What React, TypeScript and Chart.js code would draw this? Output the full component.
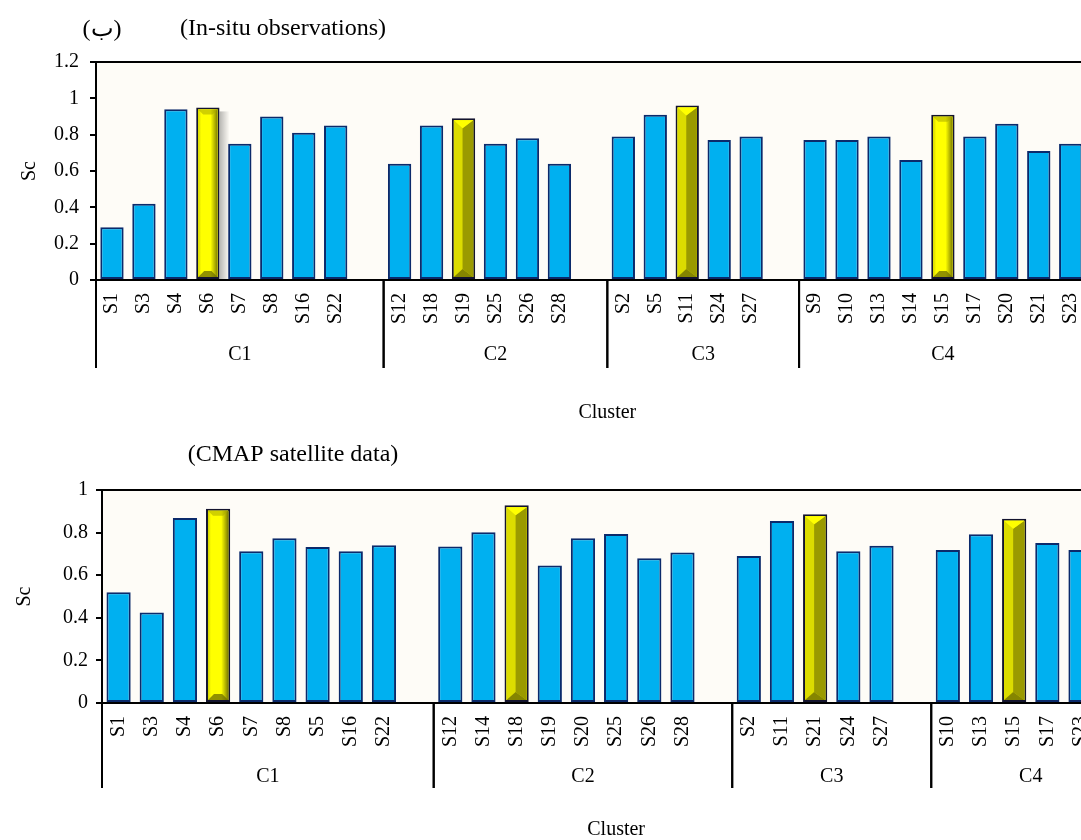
import React, { useEffect, useRef } from 'react';
import { Chart, registerables } from 'chart.js';

Chart.register(...registerables);

const FONT = "'Liberation Serif', 'Times New Roman', serif";

// ---------- Top panel: In-situ observations ----------
const topC1Stations = ['S1', 'S3', 'S4', 'S6', 'S7', 'S8', 'S16', 'S22'];
const topC1Values = [0.29, 0.42, 0.94, 0.95, 0.75, 0.9, 0.81, 0.85];
const topC2Stations = ['S12', 'S18', 'S19', 'S25', 'S26', 'S28'];
const topC2Values = [0.64, 0.85, 0.89, 0.75, 0.78, 0.64];
const topC3Stations = ['S2', 'S5', 'S11', 'S24', 'S27'];
const topC3Values = [0.79, 0.91, 0.96, 0.77, 0.79];
const topC4Stations = ['S9', 'S10', 'S13', 'S14', 'S15', 'S17', 'S20', 'S21', 'S23'];
const topC4Values = [0.77, 0.77, 0.79, 0.66, 0.91, 0.79, 0.86, 0.71, 0.75];
const topBright = ['S6', 'S15'];
const topOlive = ['S19', 'S11'];
const topShadow = ['S6'];
const topYTicks = [0, 0.2, 0.4, 0.6, 0.8, 1, 1.2];
const topYTickLabels = ['0', '0.2', '0.4', '0.6', '0.8', '1', '1.2'];

// ---------- Bottom panel: CMAP satellite data ----------
const botC1Stations = ['S1', 'S3', 'S4', 'S6', 'S7', 'S8', 'S5', 'S16', 'S22'];
const botC1Values = [0.52, 0.425, 0.868, 0.912, 0.712, 0.773, 0.732, 0.712, 0.741];
const botC2Stations = ['S12', 'S14', 'S18', 'S19', 'S20', 'S25', 'S26', 'S28'];
const botC2Values = [0.735, 0.802, 0.928, 0.646, 0.773, 0.793, 0.679, 0.707];
const botC3Stations = ['S2', 'S11', 'S21', 'S24', 'S27'];
const botC3Values = [0.69, 0.854, 0.886, 0.712, 0.738];
const botC4Stations = ['S10', 'S13', 'S15', 'S17', 'S23'];
const botC4Values = [0.718, 0.792, 0.865, 0.751, 0.718];
const botBright = ['S6'];
const botOlive = ['S18', 'S21', 'S15'];
const botShadow: string[] = [];
const botYTicks = [0, 0.2, 0.4, 0.6, 0.8, 1];
const botYTickLabels = ['0', '0.2', '0.4', '0.6', '0.8', '1'];

const clusterNames = ['C1', 'C2', 'C3', 'C4'];

type Group = { name: string; stations: string[]; values: number[]; gap: boolean };

function buildSlots(groups: Group[], trailing: number) {
  const labels: string[] = [];
  const values: (number | null)[] = [];
  const ranges: { name: string; start: number; end: number }[] = [];
  groups.forEach((g) => {
    const start = labels.length;
    g.stations.forEach((s, i) => {
      labels.push(s);
      values.push(g.values[i]);
    });
    if (g.gap) {
      labels.push('');
      values.push(null);
    }
    ranges.push({ name: g.name, start, end: labels.length - 1 });
  });
  for (let i = 0; i < trailing; i++) {
    labels.push('');
    values.push(null);
  }
  return { labels, values, ranges };
}

const panels = [
  {
    id: 'top',
    canvasTop: 0,
    width: 1140,
    height: 430,
    padding: { top: 62, left: 0, right: 20, bottom: 0 },
    yWidth: 96,
    xHeight: 150,
    yMax: 1.2,
    yTicks: topYTicks,
    yTickLabels: topYTickLabels,
    yTickPadding: 11,
    yTitlePad: 18,
    xTickPadding: 13,
    dividerBottom: 368,
    groupLabelY: 355,
    groups: [
      { name: clusterNames[0], stations: topC1Stations, values: topC1Values, gap: true },
      { name: clusterNames[1], stations: topC2Stations, values: topC2Values, gap: true },
      { name: clusterNames[2], stations: topC3Stations, values: topC3Values, gap: true },
      { name: clusterNames[3], stations: topC4Stations, values: topC4Values, gap: false },
    ],
    trailing: 1,
    bright: topBright,
    olive: topOlive,
    shadow: topShadow,
    titles: [
      { text: '(ب)', x: 102, y: 30 },
      { text: '(In-situ observations)', x: 283, y: 29 },
    ],
  },
  {
    id: 'bottom',
    canvasTop: 430,
    width: 1151,
    height: 417,
    padding: { top: 60, left: 0, right: 20, bottom: 0 },
    yWidth: 102,
    xHeight: 144,
    yMax: 1,
    yTicks: botYTicks,
    yTickLabels: botYTickLabels,
    yTickPadding: 8,
    yTitlePad: 13,
    xTickPadding: 13,
    dividerBottom: 358,
    groupLabelY: 347,
    groups: [
      { name: clusterNames[0], stations: botC1Stations, values: botC1Values, gap: true },
      { name: clusterNames[1], stations: botC2Stations, values: botC2Values, gap: true },
      { name: clusterNames[2], stations: botC3Stations, values: botC3Values, gap: true },
      { name: clusterNames[3], stations: botC4Stations, values: botC4Values, gap: true },
    ],
    trailing: 0,
    bright: botBright,
    olive: botOlive,
    shadow: botShadow,
    titles: [{ text: '(CMAP satellite data)', x: 293, y: 25 }],
  },
];

type Panel = (typeof panels)[number];

function barRect(chart: any, i: number) {
  const el = chart.getDatasetMeta(0).data[i];
  const p = el.getProps(['x', 'y', 'base', 'width'], true);
  return { left: p.x - p.width / 2, right: p.x + p.width / 2, top: p.y, bottom: p.base, x: p.x };
}

function makePlugin(panel: Panel, slots: ReturnType<typeof buildSlots>) {
  return {
    id: 'panelDecor_' + panel.id,
    beforeDraw(chart: any) {
      const { ctx, chartArea: a } = chart;
      ctx.save();
      ctx.fillStyle = '#FEFCF7';
      ctx.fillRect(a.left, a.top, a.right - a.left, a.bottom - a.top);
      ctx.restore();
    },
    beforeDatasetsDraw(chart: any) {
      const { ctx } = chart;
      ctx.save();
      slots.labels.forEach((lab, i) => {
        if (!panel.shadow.includes(lab)) return;
        const r = barRect(chart, i);
        const g = ctx.createLinearGradient(r.right, 0, r.right + 10, 0);
        g.addColorStop(0, 'rgba(0,0,0,0.28)');
        g.addColorStop(1, 'rgba(0,0,0,0)');
        ctx.fillStyle = g;
        ctx.fillRect(r.right, r.top + 4, 10, r.bottom - r.top - 4);
      });
      ctx.restore();
    },
    afterDatasetsDraw(chart: any) {
      const { ctx } = chart;
      ctx.save();
      slots.labels.forEach((lab, i) => {
        const isBright = panel.bright.includes(lab);
        const isOlive = panel.olive.includes(lab);
        if (!isBright && !isOlive) return;
        const r = barRect(chart, i);
        const l = r.left + 2;
        const rr = r.right - 2;
        const t = r.top + 2;
        const b = r.bottom - 2;
        const w = rr - l;
        if (isOlive) {
          const xm = l + w * 0.45;
          const d = 8;
          ctx.fillStyle = '#DCDC00';
          ctx.fillRect(l, t, w, b - t);
          ctx.fillStyle = '#9A9A00';
          ctx.beginPath();
          ctx.moveTo(xm, t + d);
          ctx.lineTo(rr, t);
          ctx.lineTo(rr, b);
          ctx.lineTo(xm, b - d);
          ctx.closePath();
          ctx.fill();
          ctx.fillStyle = '#FFFF00';
          ctx.beginPath();
          ctx.moveTo(l, t);
          ctx.lineTo(rr, t);
          ctx.lineTo(xm, t + d);
          ctx.closePath();
          ctx.fill();
          ctx.fillStyle = '#858500';
          ctx.beginPath();
          ctx.moveTo(l, b);
          ctx.lineTo(rr, b);
          ctx.lineTo(xm, b - d);
          ctx.closePath();
          ctx.fill();
        } else {
          ctx.fillStyle = '#FFFF00';
          ctx.fillRect(l, t, w, b - t);
          const gr = ctx.createLinearGradient(rr - 7, 0, rr, 0);
          gr.addColorStop(0, 'rgba(120,120,0,0)');
          gr.addColorStop(1, 'rgba(110,110,0,0.9)');
          ctx.fillStyle = gr;
          ctx.fillRect(rr - 7, t, 7, b - t);
          const gl = ctx.createLinearGradient(l, 0, l + 3, 0);
          gl.addColorStop(0, 'rgba(200,200,0,0.8)');
          gl.addColorStop(1, 'rgba(200,200,0,0)');
          ctx.fillStyle = gl;
          ctx.fillRect(l, t, 3, b - t);
          ctx.fillStyle = 'rgba(170,170,0,0.55)';
          ctx.beginPath();
          ctx.moveTo(l, t);
          ctx.lineTo(rr, t);
          ctx.lineTo(rr - 5, t + 5);
          ctx.lineTo(l + 5, t + 5);
          ctx.closePath();
          ctx.fill();
          ctx.fillStyle = 'rgba(110,110,0,0.75)';
          ctx.beginPath();
          ctx.moveTo(l, b);
          ctx.lineTo(rr, b);
          ctx.lineTo(rr - 6, b - 6);
          ctx.lineTo(l + 6, b - 6);
          ctx.closePath();
          ctx.fill();
        }
      });
      ctx.restore();
    },
    afterDraw(chart: any) {
      const { ctx, chartArea: a } = chart;
      const xs = chart.scales.x;
      ctx.save();
      ctx.strokeStyle = '#000';
      ctx.lineWidth = 2;
      ctx.beginPath();
      ctx.moveTo(a.left, a.top);
      ctx.lineTo(a.right, a.top);
      ctx.lineTo(a.right, a.bottom);
      ctx.stroke();
      const slotW = xs.getPixelForTick(1) - xs.getPixelForTick(0);
      ctx.lineWidth = 2;
      ctx.fillStyle = '#000';
      ctx.font = `20px ${FONT}`;
      ctx.textAlign = 'center';
      ctx.textBaseline = 'middle';
      slots.ranges.forEach((rg) => {
        const x0 = xs.getPixelForTick(rg.start) - slotW / 2;
        const x1 = xs.getPixelForTick(rg.end) + slotW / 2;
        ctx.beginPath();
        ctx.moveTo(x0, a.bottom);
        ctx.lineTo(x0, panel.dividerBottom);
        ctx.moveTo(x1, a.bottom);
        ctx.lineTo(x1, panel.dividerBottom);
        ctx.stroke();
        ctx.fillText(rg.name, (x0 + x1) / 2, panel.groupLabelY);
      });
      ctx.font = `24px ${FONT}`;
      panel.titles.forEach((t) => ctx.fillText(t.text, t.x, t.y));
      ctx.restore();
    },
  };
}

function PanelChart({ panel }: { panel: Panel }) {
  const ref = useRef<HTMLCanvasElement>(null);
  useEffect(() => {
    if (!ref.current) return;
    const slots = buildSlots(panel.groups, panel.trailing);
    const isHi = (s: string) => panel.bright.includes(s) || panel.olive.includes(s);
    const chart = new Chart(ref.current, {
      type: 'bar',
      data: {
        labels: slots.labels,
        datasets: [
          {
            data: slots.values,
            backgroundColor: slots.labels.map((s) => (isHi(s) ? '#FFFF00' : '#00B0F0')),
            borderColor: slots.labels.map((s) => (isHi(s) ? '#14142E' : '#0B2A6B')),
            borderWidth: 2,
            borderSkipped: false,
            barPercentage: 0.73,
            categoryPercentage: 1,
          },
        ],
      },
      options: {
        responsive: false,
        animation: false,
        devicePixelRatio: 1,
        layout: { padding: panel.padding },
        plugins: { legend: { display: false }, tooltip: { enabled: false }, title: { display: false } },
        scales: {
          x: {
            grid: { display: false, drawTicks: false },
            border: { display: true, color: '#000', width: 2 },
            ticks: {
              autoSkip: false,
              minRotation: 90,
              maxRotation: 90,
              padding: panel.xTickPadding,
              color: '#000',
              font: { family: FONT, size: 20 },
            },
            title: {
              display: true,
              text: 'Cluster',
              color: '#000',
              font: { family: FONT, size: 20 },
              padding: { top: 0, bottom: 5 },
            },
            afterFit: (s: any) => {
              s.height = panel.xHeight;
            },
          },
          y: {
            min: 0,
            max: panel.yMax,
            grid: { drawOnChartArea: false, drawTicks: true, tickLength: 6, color: '#000', lineWidth: 2 },
            border: { display: true, color: '#000', width: 2 },
            afterBuildTicks: (s: any) => {
              s.ticks = panel.yTicks.map((v) => ({ value: v }));
            },
            ticks: {
              padding: panel.yTickPadding,
              color: '#000',
              font: { family: FONT, size: 20 },
              callback: (v: any) => {
                const idx = panel.yTicks.findIndex((t) => Math.abs(t - Number(v)) < 1e-6);
                return idx >= 0 ? panel.yTickLabels[idx] : '';
              },
            },
            title: {
              display: true,
              text: 'Sc',
              color: '#000',
              font: { family: FONT, size: 20 },
              padding: { top: panel.yTitlePad, bottom: 0 },
            },
            afterFit: (s: any) => {
              s.width = panel.yWidth;
            },
          },
        },
      },
      plugins: [makePlugin(panel, slots)],
    });
    return () => chart.destroy();
  }, [panel]);
  return (
    <canvas
      ref={ref}
      width={panel.width}
      height={panel.height}
      style={{ position: 'absolute', left: 0, top: panel.canvasTop, width: panel.width, height: panel.height }}
    />
  );
}

export default function App() {
  return (
    <div
      style={{
        position: 'absolute',
        left: 0,
        top: 0,
        width: 1081,
        height: 840,
        overflow: 'hidden',
        background: '#fff',
      }}
    >
      {panels.map((p) => (
        <PanelChart key={p.id} panel={p} />
      ))}
    </div>
  );
}
